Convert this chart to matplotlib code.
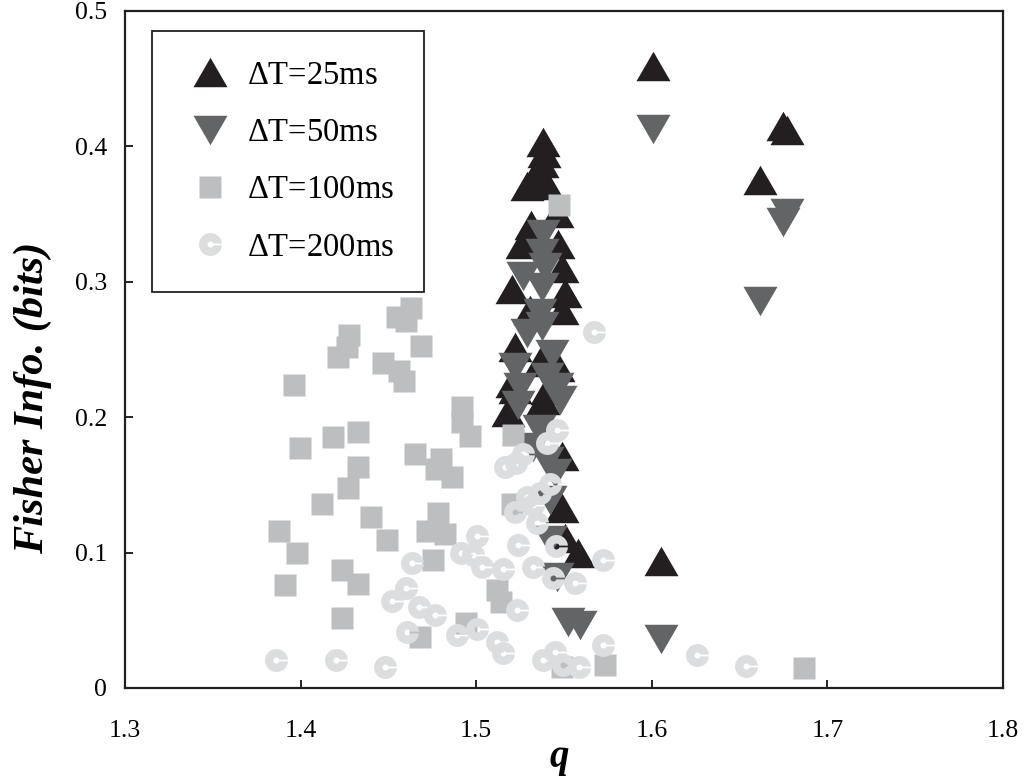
import numpy as np
import matplotlib
matplotlib.use('Agg')
import matplotlib.pyplot as plt
from matplotlib.path import Path
from matplotlib.ticker import FixedLocator

# Fisher information vs. q for four counting windows
q_25 = [1.5379, 1.5386, 1.5373, 1.5335, 1.5288, 1.5401, 1.5458, 1.5310, 1.5259, 1.5467,
        1.5486, 1.5202, 1.5506, 1.5306, 1.5486, 1.5221, 1.5363, 1.5467, 1.5202, 1.5401,
        1.5221, 1.5382, 1.5183, 1.5486, 1.5486, 1.5506, 1.5582, 1.6008, 1.6050, 1.6618,
        1.6747, 1.6770]
fi_25 = [0.403, 0.395, 0.3875, 0.379, 0.371, 0.3715, 0.351, 0.342, 0.328, 0.328,
         0.310, 0.295, 0.2915, 0.279, 0.279, 0.252, 0.241, 0.237, 0.225, 0.220,
         0.221, 0.213, 0.204, 0.171, 0.133, 0.111, 0.0995, 0.459, 0.094, 0.375,
         0.415, 0.412]

q_50 = [1.5382, 1.5373, 1.5392, 1.5268, 1.5373, 1.5363, 1.5373, 1.5288, 1.5430, 1.5221,
        1.5401, 1.5458, 1.5250, 1.5240, 1.5477, 1.5355, 1.5325, 1.5401, 1.5449, 1.5420,
        1.5420, 1.5458, 1.5525, 1.5591, 1.6008, 1.6050, 1.6618, 1.6745, 1.6767]
fi_50 = [0.335, 0.321, 0.311, 0.304, 0.296, 0.277, 0.267, 0.262, 0.247, 0.237,
         0.230, 0.2225, 0.2225, 0.209, 0.213, 0.191, 0.178, 0.168, 0.1585, 0.139,
         0.109, 0.082, 0.049, 0.0465, 0.413, 0.036, 0.286, 0.344, 0.351]

q_100 = [1.4630, 1.4550, 1.4600, 1.4276, 1.4266, 1.4213, 1.4686, 1.4467, 1.4558, 1.4589,
         1.3964, 1.4917, 1.4917, 1.4965, 1.4183, 1.4325, 1.3997, 1.4651, 1.4798, 1.4769,
         1.4862, 1.4329, 1.4272, 1.4120, 1.4401, 1.4784, 1.4718, 1.4822, 1.3879, 1.4490,
         1.3981, 1.4756, 1.4238, 1.4329, 1.3911, 1.4238, 1.4680, 1.4942, 1.5118, 1.5141,
         1.5211, 1.5202, 1.5473, 1.5490, 1.5733, 1.6868]
fi_100 = [0.281, 0.274, 0.271, 0.261, 0.2516, 0.2444, 0.2526, 0.240, 0.2344, 0.227,
          0.2236, 0.2073, 0.1967, 0.186, 0.185, 0.189, 0.177, 0.173, 0.169, 0.1615,
          0.156, 0.163, 0.148, 0.136, 0.1265, 0.1295, 0.116, 0.114, 0.116, 0.109,
          0.0995, 0.0945, 0.087, 0.0766, 0.076, 0.052, 0.0374, 0.0478, 0.0724, 0.0635,
          0.187, 0.136, 0.3565, 0.0155, 0.017, 0.0145]

q_200 = [1.5007, 1.4911, 1.4983, 1.5031, 1.4636, 1.4598, 1.4522, 1.4676, 1.4765, 1.4608,
         1.4892, 1.5007, 1.5117, 1.3860, 1.4200, 1.4481, 1.5458, 1.5401, 1.5265, 1.5227,
         1.5164, 1.5420, 1.5363, 1.5325, 1.5288, 1.5221, 1.5348, 1.5240, 1.5455, 1.5724,
         1.5325, 1.5151, 1.5439, 1.5563, 1.5234, 1.5720, 1.5382, 1.5449, 1.5497, 1.5585,
         1.5154, 1.5668, 1.6259, 1.6536]
fi_200 = [0.1123, 0.0995, 0.098, 0.089, 0.0921, 0.0736, 0.0645, 0.060, 0.0539, 0.0416,
          0.0391, 0.0433, 0.0342, 0.0207, 0.0207, 0.0153, 0.1906, 0.1812, 0.1728, 0.1664,
          0.163, 0.1507, 0.1438, 0.1352, 0.1413, 0.1302, 0.1216, 0.1056, 0.1051, 0.0945,
          0.0896, 0.0877, 0.081, 0.0773, 0.0576, 0.0318, 0.0207, 0.0268, 0.017, 0.0157,
          0.0256, 0.2632, 0.0241, 0.0165]

labels = [r'$\Delta$T=25ms', r'$\Delta$T=50ms', r'$\Delta$T=100ms', r'$\Delta$T=200ms']
x_ticks = [1.3, 1.4, 1.5, 1.6, 1.7, 1.8]
y_ticks = [0, 0.1, 0.2, 0.3, 0.4, 0.5]
y_tick_labels = ['0', '0.1', '0.2', '0.3', '0.4', '0.5']

plt.rcParams['font.family'] = 'Liberation Serif'
plt.rcParams['mathtext.fontset'] = 'custom'
plt.rcParams['mathtext.rm'] = 'Liberation Serif'


def ring_marker(r_in=0.26, half_gap=0.075, n=72):
    # donut with a thin slit on the right
    a_out = np.arcsin(half_gap)
    a_in = np.arcsin(half_gap / r_in)
    t_out = np.linspace(a_out, 2 * np.pi - a_out, n)
    t_in = np.linspace(2 * np.pi - a_in, a_in, n // 2)
    verts = np.vstack([np.column_stack([np.cos(t_out), np.sin(t_out)]),
                       r_in * np.column_stack([np.cos(t_in), np.sin(t_in)]),
                       [[np.cos(a_out), np.sin(a_out)]]])
    codes = [Path.MOVETO] + [Path.LINETO] * (len(verts) - 2) + [Path.CLOSEPOLY]
    return Path(verts, codes)


tri_up = [(-0.5, -0.433), (0.5, -0.433), (0.0, 0.433)]
tri_dn = [(-0.5, 0.433), (0.5, 0.433), (0.0, -0.433)]

fig = plt.figure(figsize=(10.28, 7.78), dpi=100)
ax = fig.add_axes([0.1216, 0.1157, 0.8541, 0.8702])

ax.plot(q_25, fi_25, linestyle='none', marker=tri_up, ms=24.5, mfc='#231f20', mec='none', label=labels[0])
ax.plot(q_50, fi_50, linestyle='none', marker=tri_dn, ms=24.5, mfc='#636466', mec='none', label=labels[1])
ax.plot(q_100, fi_100, linestyle='none', marker='s', ms=16, mfc='#bcbec0', mec='none', label=labels[2])
ax.plot(q_200, fi_200, linestyle='none', marker=ring_marker(), ms=16.5, mfc='#dcdddf', mec='none', label=labels[3])

ax.set_xlim(1.3, 1.8)
ax.set_ylim(0, 0.5)
ax.xaxis.set_major_locator(FixedLocator(x_ticks))
ax.set_xticklabels([f'{t:.1f}' for t in x_ticks])
ax.yaxis.set_major_locator(FixedLocator(y_ticks))
ax.set_yticklabels(y_tick_labels)

for side in ['top', 'bottom', 'left', 'right']:
    ax.spines[side].set_linewidth(1.6)
    ax.spines[side].set_color('#231f20')

ax.tick_params(axis='x', direction='in', length=6, width=1.2, pad=23, labelsize=18.5, top=False)
ax.tick_params(axis='y', direction='in', length=6, width=1.2, pad=13, labelsize=18.5, right=False)

ax.set_xlabel('q', fontsize=28, fontweight='bold', fontstyle='italic')
ax.xaxis.set_label_coords(0.495, -0.076)
ax.set_ylabel('Fisher Info. (bits)', fontsize=30.5, fontweight='bold', fontstyle='italic')
ax.yaxis.set_label_coords(-0.083, 0.428)

leg = ax.legend(loc='upper left', bbox_to_anchor=(0.0308, 0.9705), borderaxespad=0,
                fontsize=23.5, numpoints=1, fancybox=False, framealpha=1,
                edgecolor='#231f20', borderpad=0.9, handlelength=1.76,
                handletextpad=0.25, labelspacing=0.82)
leg.get_frame().set_linewidth(1.3)

fig.savefig('out.png', dpi=100)
